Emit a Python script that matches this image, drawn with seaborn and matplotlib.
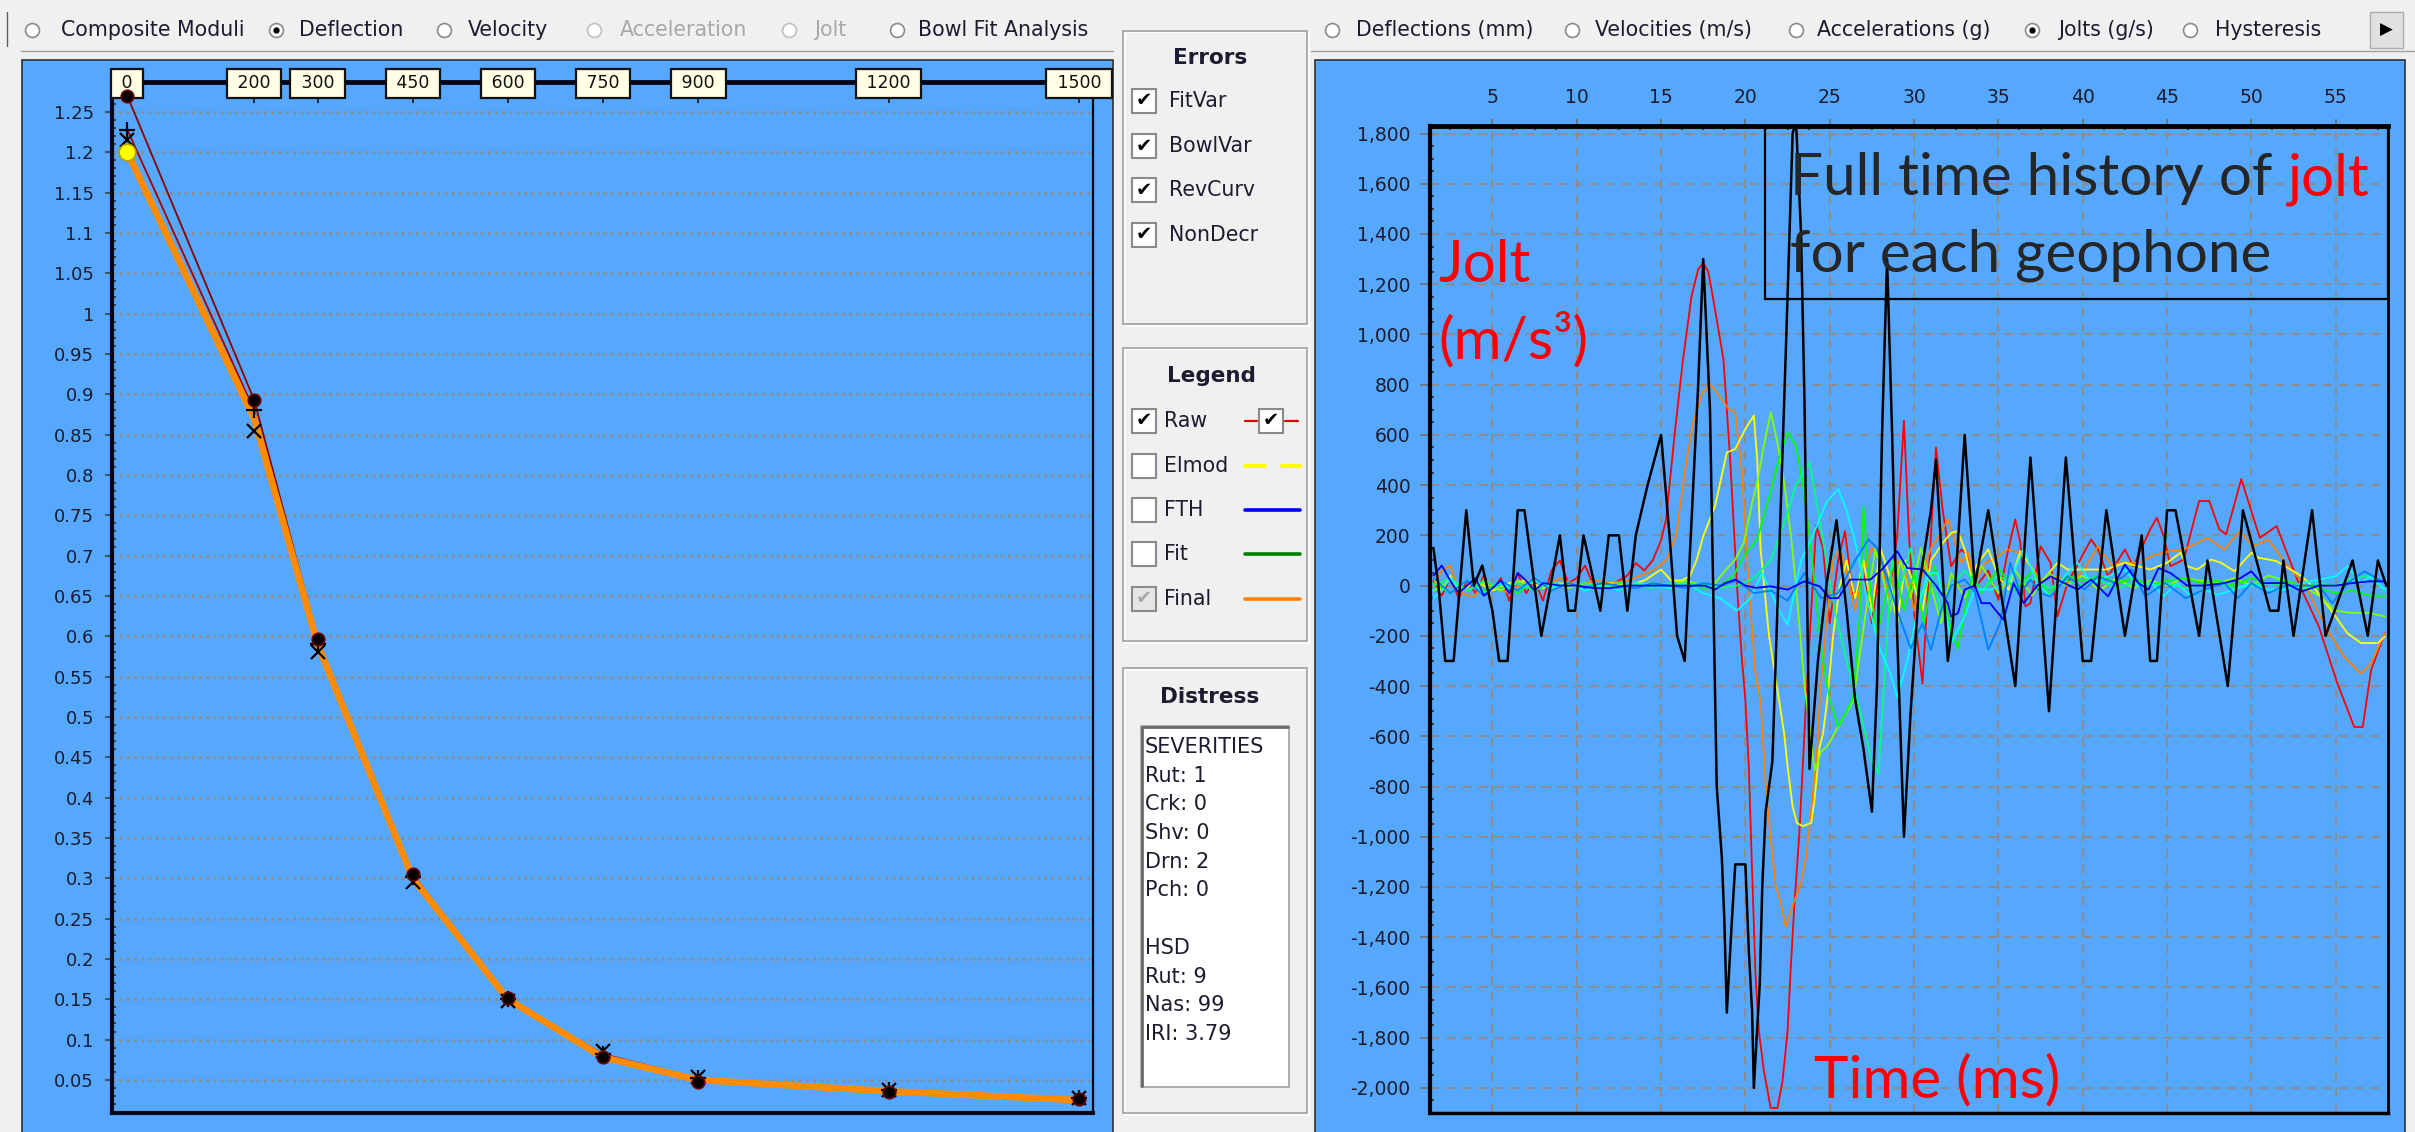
import numpy as np
import pandas as pd
import matplotlib
matplotlib.use("Agg")
import matplotlib.pyplot as plt
import seaborn as sns
from matplotlib.lines import Line2D
from matplotlib.patches import Rectangle
from matplotlib.ticker import MultipleLocator, FuncFormatter

# ---------------- data: deflection bowl (left chart) ----------------
offsets = [0, 200, 300, 450, 600, 750, 900, 1200, 1500]
raw_defl = [1.270, 0.893, 0.597, 0.305, 0.152, 0.078, 0.048, 0.035, 0.026]
raw_defl2 = [1.228, 0.880, 0.590, 0.302, 0.150, 0.082, 0.052, 0.037, 0.027]
cross_defl = [1.215, 0.855, 0.580, 0.295, 0.148, 0.086, 0.054, 0.038, 0.028]
final_defl = [1.200, 0.870, 0.590, 0.300, 0.150, 0.078, 0.050, 0.036, 0.025]

# ---------------- data: jolt time histories (right chart) (t ms, jolt) ----------------
black_trace = [(1.5,150),(1.8,0),(2.2,-300),(2.7,-300),(3.45,300),(3.9,0),(4.4,80),(5.0,-100),(5.4,-300),(5.9,-300),
    (6.5,300),(6.9,300),(7.9,-200),(9.0,200),(9.5,-100),(9.9,-100),(10.4,200),(11.4,-100),(11.9,200),(12.5,200),
    (13.0,-100),(13.5,200),(14.2,400),(15.0,600),(15.5,200),(15.95,-200),(16.4,-300),(17.2,800),(17.5,1300),(17.9,700),
    (18.3,-800),(18.6,-1080),(18.75,-1330),(18.9,-1700),(19.2,-1330),(19.4,-1110),(20.0,-1110),(20.2,-1450),(20.4,-1700),
    (20.5,-2000),(20.7,-1760),(20.85,-1590),(21.0,-1200),(21.2,-900),(21.6,-700),(22.4,940),(22.8,1800),(23.0,1850),
    (23.3,1400),(23.5,744),(23.8,-730),(24.3,-300),(24.8,0),(25.4,260),(26.0,-100),(26.5,-450),(27.0,-650),(27.5,-900),
    (27.8,-400),(28.1,600),(28.4,1300),(28.7,600),(29.0,-200),(29.4,-1000),(29.8,-500),(30.3,0),(31.0,300),(31.3,500),
    (32.0,-300),(32.3,-150),(33.0,600),(33.6,0),(34.4,300),(36.0,-400),(36.9,510),(38.0,-500),(39.0,510),(40.0,-300),
    (40.5,-300),(41.4,300),(42.5,-200),(43.5,200),(44.0,-300),(44.4,-300),(45.0,300),(45.5,300),(46.9,-200),(47.4,100),
    (48.6,-400),(49.5,300),(51.1,-100),(51.6,-100),(51.9,100),(52.5,-200),(53.6,300),(54.4,-200),(56.0,100),(56.9,-200),
    (57.5,100),(58.0,0)]
red_trace = [(1.5,20),(2.0,-40),(2.5,30),(3.0,-50),(3.5,20),(4.0,-30),(4.5,40),(5.0,-20),(5.5,30),(6.0,-60),(6.5,50),
    (7.0,-30),(7.5,20),(8.0,-60),(8.5,60),(9.0,100),(9.5,10),(10.0,30),(10.5,80),(11.0,0),(11.5,10),(12.0,0),(12.5,20),
    (13.0,40),(13.5,90),(14.0,60),(14.5,100),(15.0,180),(15.3,264),(15.8,600),(16.3,900),(16.8,1150),(17.2,1260),
    (17.5,1285),(17.8,1250),(18.2,1100),(18.7,900),(19.1,500),(19.5,0),(19.8,-300),(20.0,-458),(20.2,-720),(20.4,-1143),
    (20.6,-1552),(20.8,-1775),(21.1,-1934),(21.5,-2080),(21.9,-2080),(22.2,-1973),(22.5,-1775),(22.7,-1510),(22.9,-1275),
    (23.2,-985),(23.4,-720),(23.6,-458),(23.9,-100),(24.2,240),(24.6,150),(25.0,-150),(25.5,100),(25.9,217),(26.4,-50),
    (27.0,50),(27.5,-150),(28.0,100),(28.6,0),(29.0,200),(29.4,657),(29.7,200),(30.0,-100),(30.5,-390),(31.0,200),
    (31.3,550),(31.7,300),(32.2,77),(32.8,144),(33.2,120),(33.6,-10),(34.4,60),(35.0,-56),(35.5,117),(36.0,264),(36.3,170),
    (36.6,-83),(36.9,-70),(37.5,157),(38.1,90),(38.5,-123),(39.1,10),(40.5,184),(40.9,144),(41.5,37),(42.5,144),(43.0,77),
    (44.0,224),(44.4,270),(44.8,197),(45.2,77),(46.0,104),(46.9,337),(47.5,337),(48.1,224),(48.5,204),(49.4,424),
    (50.5,190),(51.5,237),(52.8,10),(54.0,-163),(55.1,-390),(56.1,-563),(56.6,-563),(57.1,-336),(57.9,-190)]
orange_trace = [(1.5,0),(2.0,60),(2.5,80),(3.0,-20),(3.5,-40),(4.0,-40),(4.5,30),(5.0,0),(6.0,-30),(7.0,20),(8.0,-10),
    (9.0,30),(10.0,0),(11.0,20),(12.0,10),(13.0,20),(13.8,40),(14.5,60),(15.3,100),(15.9,200),(16.4,450),(16.9,650),
    (17.4,760),(17.9,804),(18.4,760),(19.0,704),(19.4,690),(19.8,450),(20.2,0),(20.6,-350),(20.9,-458),(21.2,-787),
    (21.5,-1011),(21.8,-1196),(22.1,-1262),(22.4,-1360),(22.8,-1275),(23.3,-1183),(23.6,-1077),(23.8,-958),(24.1,-760),
    (24.3,-616),(24.4,-458),(24.8,-150),(25.2,100),(25.6,150),(26.0,50),(26.5,-100),(27.0,50),(27.5,150),(28.0,100),
    (28.5,-50),(29.0,100),(29.5,50),(30.0,-100),(30.5,50),(31.0,150),(31.5,200),(32.0,264),(32.2,224),(32.8,91),(33.2,130),
    (33.6,10),(34.2,91),(35.0,117),(35.5,144),(36.3,130),(37.5,24),(38.5,37),(39.3,10),(40.1,64),(40.9,157),(41.7,84),
    (42.5,91),(43.3,91),(44.3,124),(45.2,137),(46.0,144),(47.4,190),(48.4,144),(49.3,217),(50.1,157),(51.0,184),(52.0,91),
    (53.2,0),(54.4,-163),(55.5,-283),(56.5,-350),(57.1,-310),(57.9,-190)]
yellow_trace = [(1.5,30),(2.0,-20),(2.5,40),(3.0,-30),(4.0,20),(5.0,-20),(6.0,10),(7.0,20),(8.0,-10),(9.0,10),(10.0,0),
    (11.0,-10),(12.0,10),(13.0,0),(14.0,20),(15.0,64),(15.6,20),(16.2,20),(16.7,37),(17.1,100),(17.5,197),(18.2,317),
    (18.9,530),(19.4,544),(20.0,624),(20.5,677),(20.7,504),(20.9,144),(21.4,-200),(22.0,-458),(22.3,-590),(22.5,-720),
    (22.8,-880),(23.05,-945),(23.4,-958),(23.9,-945),(24.1,-853),(24.4,-642),(24.6,-590),(24.85,-458),(25.2,-200),
    (25.6,0),(26.0,100),(26.5,-50),(27.0,100),(27.5,-100),(28.0,150),(28.5,50),(29.0,-150),(29.5,100),(30.0,0),
    (30.5,-100),(31.0,100),(31.7,170),(32.2,210),(32.6,217),(33.0,144),(33.4,37),(33.8,91),(34.4,144),(35.0,37),
    (35.6,-16),(36.3,137),(36.9,77),(37.5,10),(38.5,91),(39.1,64),(40.5,64),(41.4,64),(42.5,91),(44.0,64),(45.0,91),
    (45.8,131),(46.2,77),(46.8,64),(47.6,104),(48.2,91),(49.0,57),(50.0,131),(50.4,111),(51.0,104),(51.5,97),(52.0,77),
    (53.0,37),(53.8,-16),(54.7,-96),(55.7,-190),(56.5,-229),(57.5,-229),(57.9,-203)]
chartreuse_trace = [(1.5,-20),(2.5,20),(3.5,-20),(4.5,10),(5.5,-20),(6.5,20),(7.5,-10),(8.5,10),(9.5,-10),(10.5,10),
    (11.5,0),(12.5,10),(13.5,0),(14.5,10),(15.5,0),(16.5,20),(17.5,0),(18.2,10),(18.8,60),(19.4,104),(19.9,170),(20.4,330),
    (20.7,410),(21.1,560),(21.5,690),(21.9,570),(22.3,410),(22.7,200),(23.0,0),(23.5,-390),(24.1,-735),(24.5,-660),
    (24.85,-640),(25.6,-550),(26.4,-458),(27.1,-123),(27.7,144),(28.1,50),(28.6,-100),(29.2,100),(29.8,-50),(30.4,150),
    (31.0,0),(31.6,-150),(32.2,50),(33.0,-50),(34.0,80),(35.0,-30),(36.0,60),(37.0,-40),(38.0,50),(39.0,0),(40.0,40),
    (41.0,-20),(42.0,30),(43.0,-10),(44.0,20),(45.0,0),(46.0,30),(47.0,20),(48.0,10),(49.0,30),(50.0,0),(51.0,40),(52.0,20),
    (53.0,0),(54.0,-40),(55.0,-100),(56.0,-109),(57.0,-109),(57.9,-123)]
green_trace = [(1.5,10),(2.5,-30),(3.5,20),(4.5,-20),(5.5,10),(6.5,-30),(7.5,20),(8.5,-10),(9.5,10),(10.5,-10),(11.5,10),
    (12.5,-5),(13.5,10),(14.5,0),(15.5,-10),(16.5,10),(17.5,-10),(18.5,0),(19.3,40),(19.9,117),(20.7,184),(21.4,350),
    (22.0,504),(22.5,610),(23.0,557),(23.4,410),(23.8,197),(24.1,10),(24.5,-256),(25.0,-456),(25.5,-560),(26.0,-500),
    (26.4,-443),(26.8,-100),(27.0,317),(27.3,50),(27.8,-200),(28.3,-50),(28.8,100),(29.4,-100),(30.0,50),(30.6,-150),
    (31.2,80),(31.8,-50),(32.2,-180),(32.6,-250),(33.0,-100),(33.5,50),(34.0,-30),(35.0,70),(36.0,-20),(37.0,60),(38.0,-30),
    (39.0,40),(40.0,20),(41.0,40),(42.0,10),(43.0,30),(44.0,0),(45.0,20),(46.0,30),(47.0,10),(48.0,20),(49.0,0),(50.0,30),
    (51.0,10),(52.0,20),(53.0,0),(54.0,-10),(55.0,-30),(56.0,-20),(57.0,-40),(57.9,-40)]
spring_trace = [(1.5,0),(2.5,30),(3.5,-20),(4.5,20),(5.5,-10),(6.5,10),(7.5,-20),(8.5,10),(9.5,0),(10.5,10),(11.5,-10),
    (12.5,10),(13.5,0),(14.5,-10),(15.5,10),(16.5,0),(17.5,10),(18.5,-10),(19.5,0),(20.5,30),(21.5,100),(22.3,250),
    (23.0,400),(23.8,490),(24.3,300),(24.8,100),(25.3,-100),(26.0,-300),(26.8,-500),(27.5,-700),(27.9,-750),(28.3,-300),
    (28.7,100),(29.2,0),(29.8,150),(30.4,-50),(31.0,50),(31.6,-100),(32.2,0),(33.0,60),(34.0,-20),(35.0,40),(36.0,0),
    (37.0,30),(38.0,-10),(39.0,20),(40.0,0),(41.0,20),(42.0,-10),(43.0,10),(44.0,0),(45.0,10),(46.0,-10),(47.0,0),(48.0,10),
    (49.0,-10),(50.0,0),(51.0,10),(52.0,0),(53.0,-10),(54.0,10),(55.0,0),(56.0,30),(57.0,40),(57.9,-20)]
cyan_trace = [(1.5,-50),(2.0,-20),(2.5,30),(3.0,-10),(3.5,20),(4.5,-30),(5.5,10),(6.5,-20),(7.5,20),(8.5,-10),(9.5,10),
    (10.5,-20),(11.5,0),(12.5,-20),(13.5,10),(14.5,0),(15.5,-10),(16.5,10),(17.5,-30),(18.5,-50),(19.5,-100),(20.3,-50),
    (21.0,50),(22.0,-100),(22.5,-156),(23.3,100),(24.0,200),(24.8,330),(25.5,384),(26.0,300),(26.6,150),(27.2,-50),
    (28.0,-256),(28.6,-350),(29.0,-443),(29.6,-300),(30.2,-100),(30.8,50),(31.4,50),(32.0,-150),(32.2,-229),(33.0,-123),
    (33.6,-16),(34.6,-16),(35.7,24),(36.5,144),(37.3,10),(38.1,-43),(38.9,37),(39.7,91),(40.5,10),(41.5,37),(42.5,64),
    (43.3,-3),(44.1,10),(44.8,-43),(45.6,10),(46.4,-43),(47.2,-16),(48.0,-36),(49.0,-16),(50.0,10),(51.0,-16),(52.0,-16),
    (53.0,10),(54.0,24),(55.0,37),(55.7,77),(56.5,10),(57.1,37),(57.9,-16)]
azure_trace = [(1.5,30),(2.5,-30),(3.5,20),(4.5,-40),(5.5,20),(6.5,-20),(7.5,30),(8.5,-20),(9.5,10),(10.5,-10),(11.5,10),
    (12.5,0),(13.5,-10),(14.5,10),(15.5,0),(16.5,-10),(17.5,10),(18.5,0),(19.5,20),(20.5,-30),(21.5,-20),(22.5,-60),
    (23.5,50),(24.5,-50),(25.5,-30),(26.5,100),(27.3,184),(27.8,150),(28.3,50),(29.0,-100),(29.8,-250),(30.5,-150),
    (31.0,-256),(31.6,-100),(32.2,0),(33.0,24),(33.6,-23),(34.4,-256),(35.1,-150),(35.7,91),(36.3,-30),(36.9,24),
    (37.5,-30),(38.1,-43),(39.1,37),(40.1,-16),(40.9,37),(41.9,10),(42.9,64),(43.7,-43),(44.9,10),(46.1,-50),(47.2,-16),
    (48.4,10),(49.2,-50),(50.0,10),(51.0,-30),(52.0,0),(53.2,0),(54.0,0),(54.8,-70),(55.7,10),(56.7,57),(57.9,10)]
blue_trace = [(1.5,40),(2.0,80),(2.5,20),(3.0,-30),(3.5,0),(4.0,30),(4.5,-40),(5.0,-10),(5.5,20),(6.0,-30),(6.5,50),
    (7.0,20),(7.5,-20),(8.0,10),(9.0,0),(10.0,0),(11.0,-10),(12.0,-10),(13.0,0),(14.0,0),(15.0,0),(16.0,0),(17.0,0),
    (17.6,0),(18.2,-16),(18.8,10),(19.4,24),(20.0,0),(20.6,-9),(21.5,-3),(22.5,-16),(23.5,17),(24.4,-3),(25.0,-50),
    (25.5,-50),(26.2,24),(27.4,24),(28.1,64),(29.0,137),(29.6,70),(30.5,64),(31.3,0),(32.0,-70),(32.2,-123),(32.6,-110),
    (33.0,-16),(33.6,0),(34.0,-70),(34.5,-70),(35.3,-136),(35.9,10),(36.5,-70),(37.3,0),(38.1,37),(38.9,10),(39.7,-16),
    (40.5,24),(41.5,-43),(42.5,84),(43.3,10),(43.9,-16),(44.5,70),(45.2,50),(46.2,0),(47.2,0),(48.4,10),(49.2,24),
    (50.0,57),(50.6,10),(51.4,10),(52.0,10),(53.0,-23),(54.0,0),(55.0,0),(56.0,10),(57.0,17),(57.9,17)]

sensor_names = ["Load", "D1", "D2", "D3", "D4", "D5", "D6", "D7", "D8", "D9"]
sensor_colors = ["#000000", "#ff0000", "#ff8000", "#ffff00", "#80ff00", "#00ff00", "#00ff80", "#00ffff", "#0080ff", "#0000ff"]
sensor_data = [black_trace, red_trace, orange_trace, yellow_trace, chartreuse_trace, green_trace,
               spring_trace, cyan_trace, azure_trace, blue_trace]

x_ticks_right = list(range(5, 60, 5))
y_ticks_right = list(range(-2000, 1801, 200))
distress_lines = ["SEVERITIES", "Rut: 1", "Crk: 0", "Shv: 0", "Drn: 2", "Pch: 0", "", "HSD", "Rut: 9", "Nas: 99", "IRI: 3.79"]

# ---------------- style ----------------
sns.set_theme(style="white")
plt.rcParams["font.family"] = ["DejaVu Sans"]
plt.rcParams["axes.unicode_minus"] = False

W, H = 2415, 1132
BLUE = "#56a8ff"
BG = "#f0f0f0"
TXT = "#1c1c30"
fig = plt.figure(figsize=(W / 100, H / 100), dpi=100, facecolor=BG)


def frect(x0, y0, x1, y1, **kw):
    r = Rectangle((x0 / W, 1 - y1 / H), (x1 - x0) / W, (y1 - y0) / H, transform=fig.transFigure, **kw)
    fig.add_artist(r)
    return r


def fline(xs, ys, **kw):
    l = Line2D([x / W for x in xs], [1 - y / H for y in ys], transform=fig.transFigure, **kw)
    fig.add_artist(l)
    return l


def ftext(x, y, s, **kw):
    return fig.text(x / W, 1 - y / H, s, **kw)


# ---------------- top radio bars ----------------
radios = [("Composite Moduli", 32, 61, False, True), ("Deflection", 276, 299, True, True),
          ("Velocity", 444, 468, False, True), ("Acceleration", 594, 620, False, False),
          ("Jolt", 789, 814, False, False), ("Bowl Fit Analysis", 897, 918, False, True),
          ("Deflections (mm)", 1332, 1356, False, True), ("Velocities (m/s)", 1572, 1595, False, True),
          ("Accelerations (g)", 1796, 1817, False, True), ("Jolts (g/s)", 2032, 2058, True, True),
          ("Hysteresis", 2190, 2215, False, True)]
for label, cx, tx, sel, en in radios:
    fline([cx], [30], marker="o", ms=10, mfc="white", mec="#8a8a8a" if en else "#c0c0c0", mew=1.2, ls="none")
    if sel:
        fline([cx], [30], marker="o", ms=3.5, mfc="black", mec="black", ls="none")
    ftext(tx, 30, label, fontsize=14.8, color=TXT if en else "#a8a8a8", va="center", ha="left")
frect(2370, 12, 2403, 48, fc="#e1e1e1", ec="#adadad", lw=1)
ftext(2386, 30, "\u25B6", fontsize=12, ha="center", va="center", color="black")
fline([21, 1113], [51, 51], color="#a0a0a0", lw=1)
fline([1311, 2415], [51, 51], color="#a0a0a0", lw=1)
fline([7, 7], [12, 46], color="#606060", lw=1)

# ---------------- blue panels ----------------
frect(22, 60, 1113, 1140, fc=BLUE, ec="#303030", lw=1.2, zorder=-1)
frect(1315, 60, 2405, 1140, fc=BLUE, ec="#303030", lw=1.2, zorder=-1)

# ---------------- left chart: deflection bowl ----------------
axL = fig.add_axes([112 / W, 1 - 1113 / H, (1093 - 112) / W, (1113 - 82) / H])
axL.set_facecolor(BLUE)
axL.set_axisbelow(True)
dfL = pd.DataFrame({"offset": offsets * 2, "defl": raw_defl + raw_defl2,
                    "series": ["Raw A"] * len(offsets) + ["Raw B"] * len(offsets)})
sns.lineplot(data=dfL, x="offset", y="defl", hue="series", palette={"Raw A": "#8b0000", "Raw B": "#a00000"},
             lw=1.3, estimator=None, sort=False, legend=False, ax=axL)
dfF = pd.DataFrame({"offset": offsets, "defl": final_defl})
sns.lineplot(data=dfF, x="offset", y="defl", color="#ff8c00", lw=4.8, estimator=None, sort=False, ax=axL)
axL.plot(offsets, cross_defl, ls="none", marker="x", ms=10, mew=1.6, color="black")
axL.plot(offsets, raw_defl2, ls="none", marker="+", ms=12, mew=1.6, color="black")
axL.plot(offsets[:1], final_defl[:1], ls="none", marker="o", ms=12, mfc="#ffff00", mec="#b0a000", mew=1.2)
axL.set_xlim(-24, 1522)
axL.set_ylim(0.009, 1.287)
axL.set_xlabel("")
axL.set_ylabel("")
axL.set_xticks(offsets)
axL.set_xticklabels([" %d " % o for o in offsets])
axL.tick_params(axis="x", which="major", top=True, bottom=False, labeltop=True, labelbottom=False,
                direction="in", length=15, width=1.3, color="#202020", pad=-7.5, labelsize=12.5, labelcolor="#101010")
for lab in axL.get_xticklabels():
    lab.set_bbox(dict(boxstyle="square,pad=0.3", fc="#ffffe6", ec="#101010", lw=1.6))
axL.xaxis.set_zorder(3)
# raw markers drawn above the label boxes, as in the reference
axL.plot(offsets, raw_defl, ls="none", marker="o", ms=9, mfc="black", mec="#6a0000", mew=1.2, zorder=4, clip_on=False)
axL.set_yticks(np.round(np.arange(0.05, 1.2501, 0.05), 2))
axL.yaxis.set_major_formatter(FuncFormatter(lambda v, p: ("%.2f" % v).rstrip("0").rstrip(".")))
axL.yaxis.set_minor_locator(MultipleLocator(0.01))
axL.tick_params(axis="y", which="major", left=True, direction="out", length=5, width=1.2, color="#404040",
                pad=8, labelsize=13, labelcolor=TXT)
axL.tick_params(axis="y", which="minor", left=True, direction="in", length=3, width=1.4, color="#404040")
axL.grid(True, axis="y", which="major", color="#8c8c8c", ls=(0, (1, 1.6)), lw=2)
axL.grid(False, axis="x")
for s, lw in [("left", 3), ("bottom", 3), ("top", 3.5), ("right", 1.6)]:
    axL.spines[s].set_visible(True)
    axL.spines[s].set_linewidth(lw)
    axL.spines[s].set_color("#05051a")

# ---------------- middle panels ----------------
def group_box(x0, y0, x1, y1):
    frect(x0 + 1.5, y0 + 1.5, x1 + 1.5, y1 + 1.5, fill=False, ec="white", lw=1.2)
    frect(x0, y0, x1, y1, fill=False, ec="#a0a0a0", lw=1.2)


def checkbox(cx, cy, checked, enabled=True):
    frect(cx - 12, cy - 12, cx + 12, cy + 12, fc="white" if enabled else "#e6e6e6", ec="#8a8a8a", lw=1.5)
    if checked:
        ftext(cx, cy, "\u2714", fontsize=14, ha="center", va="center", color="black" if enabled else "#a8a8a8")


group_box(1123, 31, 1307, 324)
ftext(1210, 58, "Errors", fontsize=15.5, fontweight="bold", ha="center", va="center", color=TXT)
for i, name in enumerate(["FitVar", "BowlVar", "RevCurv", "NonDecr"]):
    y = [101, 146, 190, 235][i]
    checkbox(1144, y, True)
    ftext(1169, y, name, fontsize=14.8, ha="left", va="center", color=TXT)

group_box(1123, 348, 1307, 641)
ftext(1211, 376, "Legend", fontsize=15.5, fontweight="bold", ha="center", va="center", color=TXT)
leg_rows = [("Raw", 421, True, True), ("Elmod", 466, False, True), ("FTH", 510, False, True),
            ("Fit", 554, False, True), ("Final", 599, True, False)]
for name, y, chk, en in leg_rows:
    checkbox(1144, y, chk, en)
    ftext(1164, y, name, fontsize=14.8, ha="left", va="center", color=TXT)
fline([1245, 1257], [421, 421], color="#e00000", lw=1.6)
fline([1285, 1298], [421, 421], color="#e00000", lw=1.6)
checkbox(1271, 421, True)
fline([1245, 1265], [466, 466], color="#ffff00", lw=3)
fline([1282, 1300], [466, 466], color="#ffff00", lw=3)
fline([1245, 1300], [510, 510], color="#0000ff", lw=2.6)
fline([1245, 1300], [554, 554], color="#008000", lw=2.6)
fline([1245, 1300], [599, 599], color="#ff8000", lw=2.6)

group_box(1123, 668, 1307, 1113)
ftext(1210, 697, "Distress", fontsize=15.5, fontweight="bold", ha="center", va="center", color=TXT)
frect(1141, 726, 1289, 1087, fc="white", ec="#a0a0a0", lw=1.2)
fline([1142, 1142, 1288], [1086, 727, 727], color="#696969", lw=2)
for i, line in enumerate(distress_lines):
    if line:
        ftext(1145, 747 + i * 28.7, line, fontsize=15, ha="left", va="center", color=TXT)

# ---------------- right chart: jolt time histories ----------------
axR = fig.add_axes([1430 / W, 1 - 1113 / H, (2388 - 1430) / W, (1113 - 126) / H])
axR.set_facecolor(BLUE)
axR.set_axisbelow(True)
rows = []
for name, data in zip(sensor_names, sensor_data):
    for t, v in data:
        rows.append((name, t, v))
dfR = pd.DataFrame(rows, columns=["sensor", "t", "jolt"])
sns.lineplot(data=dfR[dfR.sensor != "Load"], x="t", y="jolt", hue="sensor", hue_order=sensor_names[1:],
             palette=sensor_colors[1:], lw=1.3, estimator=None, sort=False, legend=False, ax=axR)
sns.lineplot(data=dfR[dfR.sensor == "Load"], x="t", y="jolt", color=sensor_colors[0], lw=1.8,
             estimator=None, sort=False, ax=axR)
axR.set_xlim(1.3, 58.1)
axR.set_ylim(-2100, 1830)
axR.set_xlabel("")
axR.set_ylabel("")
axR.set_xticks(x_ticks_right)
axR.xaxis.set_minor_locator(MultipleLocator(1.25))
axR.set_yticks(y_ticks_right)
axR.yaxis.set_minor_locator(MultipleLocator(50))
axR.yaxis.set_major_formatter(FuncFormatter(lambda v, p: f"{int(round(v)):,}"))
axR.tick_params(axis="x", which="major", top=True, bottom=False, labeltop=True, labelbottom=False,
                direction="out", length=5, width=1.2, color="#707070", pad=9, labelsize=13.5, labelcolor=TXT)
axR.tick_params(axis="x", which="minor", top=True, bottom=False, direction="in", length=3, width=1.5, color="#404040")
axR.tick_params(axis="y", which="major", left=True, direction="out", length=7, width=1.2, color="#707070",
                pad=7, labelsize=13.5, labelcolor=TXT)
axR.tick_params(axis="y", which="minor", left=True, direction="in", length=3, width=1.5, color="#404040")
axR.grid(True, which="major", color="#8c8c8c", ls=(0, (4.6, 3.6)), lw=1.4)
for s, lw in [("left", 3), ("bottom", 2.5), ("top", 3.5), ("right", 2)]:
    axR.spines[s].set_visible(True)
    axR.spines[s].set_linewidth(lw)
    axR.spines[s].set_color("#000000")

# annotations
frect(1765, 126, 2388, 299, fill=False, ec="black", lw=1.6, zorder=5)
BIG = dict(fontsize=42, family="Lato", va="baseline", zorder=6)
r = fig.canvas.get_renderer()
probe_full = ftext(1790, 195, "Full time history of jolt", color="none", **BIG)
bb_full = probe_full.get_window_extent(r)
probe_jolt = ftext(1790, 195, "jolt", color="none", **BIG)
jolt_w = probe_jolt.get_window_extent(r).width
probe_full.remove()
probe_jolt.remove()
ftext(1790, 195, "Full time history of", color="#262626", **BIG)
fig.text((bb_full.x1 - jolt_w) / fig.bbox.width, 1 - 195 / H, "jolt", color="#ff0000", **BIG)
ftext(1790, 272, "for each geophone", color="#262626", **BIG)
ftext(1438, 282, "Jolt", color="#ff0000", **BIG)
ftext(1438, 358, "(m/s\u00b3)", color="#ff0000", **BIG)
ftext(1814, 1097, "Time (ms)", color="#ff0000", **BIG)

fig.savefig("out.png", dpi=100, facecolor=fig.get_facecolor())
